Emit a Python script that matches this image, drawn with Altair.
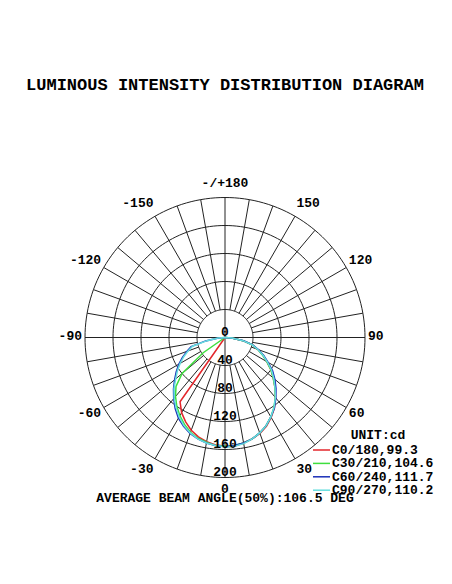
import altair as alt
import numpy as np
import pandas as pd

# ---------------- data ----------------
title_text = "LUMINOUS INTENSITY DISTRIBUTION DIAGRAM"
footer_text = "AVERAGE BEAM ANGLE(50%):106.5 DEG"
unit_text = "UNIT:cd"

gamma = [0, 5, 10, 15, 20, 25, 30, 35, 40, 45, 50, 55, 60, 65, 70, 75, 80, 85, 90]

# right half-planes (C0, C30, C60, C90) and left half-planes (C180, C210, C240, C270), in cd
c0 = [156, 156, 153, 150, 146, 140, 132, 123, 112, 101, 90, 80, 69, 60, 50, 40, 26, 10, 0]
c180 = [155, 154, 151, 147, 141, 133, 124, 112, 0, 0, 0, 0, 0, 0, 0, 0, 0, 0, 0]
c30 = [156, 155, 153, 150, 145, 139, 131, 122, 112, 101, 90, 80, 69, 59, 50, 40, 26, 10, 0]
c210 = [155, 155, 152, 149, 144, 137, 129, 120, 110, 99, 80, 38, 0, 0, 0, 0, 0, 0, 0]
c60 = [156, 155, 153, 150, 145, 139, 131, 123, 113, 103, 93, 83, 71, 61, 51, 41, 27, 11, 0]
c240 = [156, 155, 153, 150, 146, 140, 133, 124, 114, 104, 94, 85, 76, 67, 58, 50, 28, 11, 0]
c90 = [157, 156, 154, 150, 145, 139, 131, 122, 112, 101, 91, 81, 70, 60, 50, 40, 26, 10, 0]
c270 = [156, 155, 153, 150, 145, 139, 131, 122, 113, 103, 92, 83, 74, 65, 56, 48, 26, 10, 0]

series_names = ["C0/180,99.3", "C30/210,104.6", "C60/240,111.7", "C90/270,110.2"]
series_right = [c0, c30, c60, c90]
series_left = [c180, c210, c240, c270]
series_colors = ["#e3262b", "#3ede3e", "#1a2fb8", "#66dede"]
series_widths = [1.5, 1.5, 1.5, 2.6]

ring_values = [40, 80, 120, 160, 200]
ring_labels = ["0", "40", "80", "120", "160", "200"]
ring_label_values = [0, 40, 80, 120, 160, 200]
angle_label_deg = [0, 30, 60, 90, 120, 150, 180, -150, -120, -90, -60, -30]
angle_labels = ["0", "30", "60", "90", "120", "150", "-/+180", "-150", "-120", "-90", "-60", "-30"]
spoke_deg = list(range(0, 360, 10))

# ---------------- geometry / scales ----------------
W, H = 436, 568
K = 0.7                      # px per cd
CX, CY = 217.0, 329.5        # pole position inside plot area
RMAX = 200
xdom = [-CX / K, (W - CX) / K]
ydom = [-(H - CY) / K, CY / K]
xsc = alt.Scale(domain=xdom, nice=False, zero=False)
ysc = alt.Scale(domain=ydom, nice=False, zero=False)
xs = alt.X("x:Q", scale=xsc, axis=None)
ys = alt.Y("y:Q", scale=ysc, axis=None)
FONT = "Courier New, Liberation Mono, monospace"


def pol(r, deg):
    t = np.radians(deg)
    return r * np.sin(t), -r * np.cos(t)


def page_to_cd(px, py):
    return (px - 8 - CX) / K, (CY - (py - 8)) / K


# grid circles
rows = []
for rv in ring_values:
    for i, a in enumerate(range(0, 361, 2)):
        x, y = pol(rv, a)
        rows.append({"ring": rv, "o": i, "x": x, "y": y})
rings_df = pd.DataFrame(rows)

# spokes
rows = []
for a in spoke_deg:
    r0 = 0 if a % 90 == 0 else ring_values[0]
    x0, y0 = pol(r0, a)
    x1, y1 = pol(RMAX, a)
    rows.append({"x": x0, "y": y0, "x2": x1, "y2": y1})
spokes_df = pd.DataFrame(rows)

# curves
rows = []
for name, left, right in zip(series_names, series_left, series_right):
    o = 0
    for g, v in reversed(list(zip(gamma, left))):
        x, y = pol(v, -g)
        rows.append({"series": name, "o": o, "x": x, "y": y}); o += 1
    for g, v in zip(gamma, right):
        x, y = pol(v, g)
        rows.append({"series": name, "o": o, "x": x, "y": y}); o += 1
curves_df = pd.DataFrame(rows)

# angle labels: horizontal anchor on a smaller radius, vertical on a larger one
ang_rows = []
for d, t in zip(angle_label_deg, angle_labels):
    xa, _ = pol(143 / K, d)
    _, ya = pol(153 / K, d)
    side = "c" if d in (0, 180) else ("r" if d > 0 else "l")
    if side == "c":
        xa = 0.0
    ang_rows.append({"x": xa, "y": ya, "t": t, "side": side})
ang_df = pd.DataFrame(ang_rows)
ring_df = pd.DataFrame({"x": [0.0] * len(ring_labels),
                        "y": [-v for v in ring_label_values], "t": ring_labels})

# legend
leg_rows = []
for i, (n, c) in enumerate(zip(series_names, series_colors)):
    py = 450 + 13.4 * i
    x0, y = page_to_cd(313, py)
    x1, _ = page_to_cd(330, py)
    xt, _ = page_to_cd(332, py)
    leg_rows.append({"series": n, "x": x0, "x2": x1, "y": y, "xt": xt})
leg_df = pd.DataFrame(leg_rows)
ux, uy = page_to_cd(378, 435)
unit_df = pd.DataFrame({"x": [ux], "y": [uy], "t": [unit_text]})
tx, ty = page_to_cd(225, 85)
fx, fy = page_to_cd(225, 498)
ann_df = pd.DataFrame({"x": [tx, fx], "y": [ty, fy], "t": [title_text, footer_text],
                       "s": [17, 13]})

color = alt.Color("series:N", scale=alt.Scale(domain=series_names, range=series_colors), legend=None)
swidth = alt.StrokeWidth("series:N", scale=alt.Scale(domain=series_names, range=series_widths), legend=None)

rings = alt.Chart(rings_df).mark_line(color="#222", strokeWidth=1).encode(
    x=xs, y=ys, detail="ring:N", order="o:Q")
spokes = alt.Chart(spokes_df).mark_rule(color="#222", strokeWidth=1).encode(
    x=xs, y=ys, x2="x2:Q", y2="y2:Q")
curves = alt.Chart(curves_df).mark_line().encode(
    x=xs, y=ys, color=color, strokeWidth=swidth, order="o:Q", detail="series:N")

txt = dict(font=FONT, fontWeight="bold", fontSize=13, baseline="middle", color="black", dy=-1.5)
ang_c = alt.Chart(ang_df).transform_filter("datum.side == 'c'").mark_text(align="center", **txt).encode(
    x=xs, y=ys, text="t:N")
ang_r = alt.Chart(ang_df).transform_filter("datum.side == 'r'").mark_text(align="left", **txt).encode(
    x=xs, y=ys, text="t:N")
ang_l = alt.Chart(ang_df).transform_filter("datum.side == 'l'").mark_text(align="right", **txt).encode(
    x=xs, y=ys, text="t:N")
ring_text = alt.Chart(ring_df).mark_text(font=FONT, fontWeight="bold", fontSize=13,
                                         align="center", baseline="bottom", dy=1, color="black").encode(
    x=xs, y=ys, text="t:N")
leg_lines = alt.Chart(leg_df).mark_rule().encode(
    x=xs, x2="x2:Q", y=ys, color=color, strokeWidth=swidth)
leg_text = alt.Chart(leg_df).mark_text(font=FONT, fontWeight="bold", fontSize=13,
                                       align="left", baseline="middle", color="black").encode(
    x=alt.X("xt:Q", scale=xsc, axis=None), y=ys, text="series:N")
unit = alt.Chart(unit_df).mark_text(font=FONT, fontWeight="bold", fontSize=13,
                                    align="center", baseline="middle", color="black").encode(
    x=xs, y=ys, text="t:N")
ann = alt.Chart(ann_df).mark_text(font=FONT, fontWeight="bold", align="center",
                                  baseline="middle", color="black").encode(
    x=xs, y=ys, text="t:N", size=alt.Size("s:Q", scale=None, legend=None))

chart = alt.layer(rings, spokes, curves, ang_c, ang_r, ang_l, ring_text, leg_lines, leg_text, unit, ann).properties(
    width=W, height=H, autosize=alt.AutoSizeParams(type="none"), padding=0,
    background="white"
).configure_view(stroke=None)

chart.save("out.html", embed_options={"renderer": "svg", "actions": False})
